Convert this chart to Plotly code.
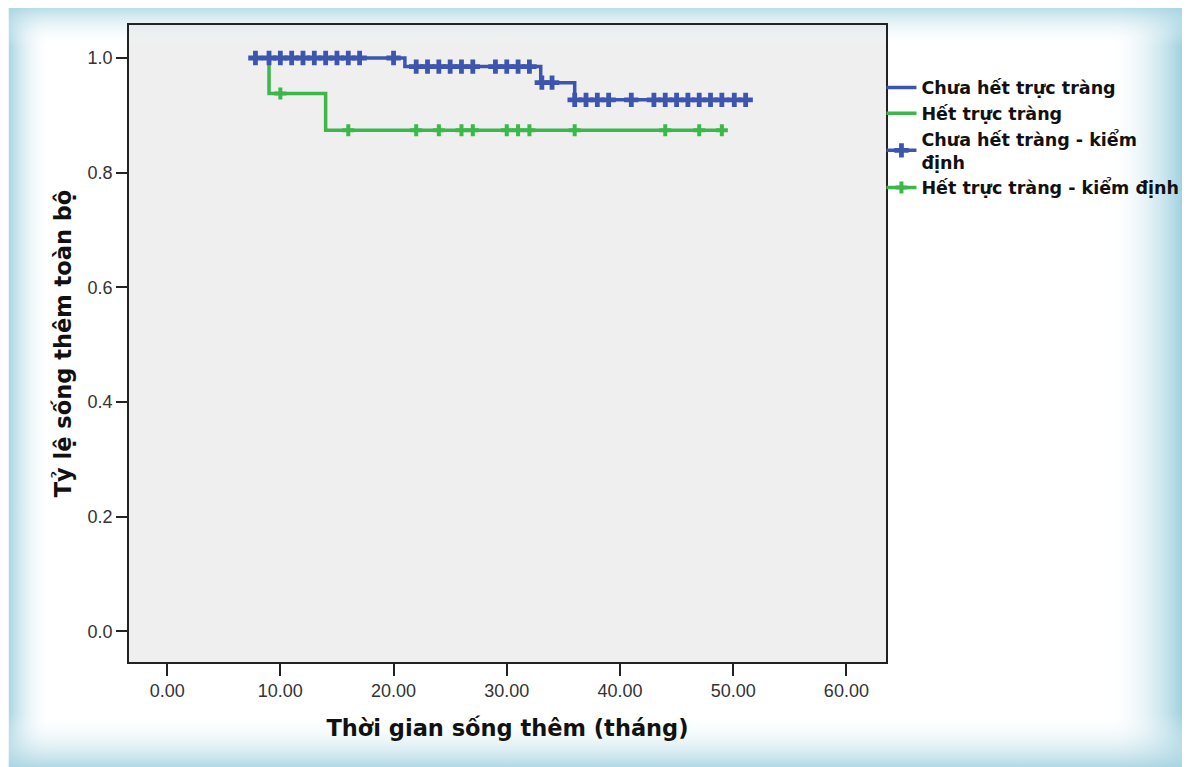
import plotly.graph_objects as go
import urllib.parse

# ---------------- data ----------------
# Kaplan-Meier step curves: event times and survival after each step
blue_name = "Chưa hết trực tràng"
blue_times = [7.6, 21.0, 33.0, 36.0, 51.2]
blue_surv = [1.0, 0.985, 0.957, 0.927, 0.927]
blue_censor = [7.8, 9, 10, 11, 12, 13, 14, 15, 16, 17, 20,
               22, 23, 24, 25, 26, 27, 29, 30, 31, 32,
               33.1, 34,
               36, 37, 38, 39, 41, 43, 44, 45, 46, 47, 48, 49, 50.1, 51.1]

green_name = "Hết trực tràng"
green_times = [7.6, 9.0, 14.0, 49.0]
green_surv = [1.0, 0.938, 0.874, 0.874]
green_censor = [10, 16, 22, 24, 26, 27, 30, 31, 32, 36, 44, 47, 49]

blue_censor_name = "Chưa hết tràng - kiểm<br>định"
green_censor_name = "Hết trực tràng - kiểm định"

x_ticks = [0, 10, 20, 30, 40, 50, 60]
y_ticks = [0.0, 0.2, 0.4, 0.6, 0.8, 1.0]

x_title = "Thời gian sống thêm (tháng)"
y_title = "Tỷ lệ sống thêm toàn bộ"

# ---------------- style ----------------
BLUE = "#3d55ae"
GREEN = "#3cb84a"
TXT = "#222222"


def surv_at(t, times, surv):
    s = surv[0]
    for ti, si in zip(times, surv):
        if t >= ti:
            s = si
    return s


def isolated(xs, times, surv):
    xx, yy = [], []
    for t in xs:
        xx += [t, None]
        yy += [surv_at(t, times, surv), None]
    return xx, yy


fig = go.Figure()

fig.add_trace(go.Scatter(x=green_times, y=green_surv, mode="lines", line_shape="hv",
                         line=dict(color=GREEN, width=3.5), name=green_name, legendrank=2,
                         hoverinfo="skip"))
fig.add_trace(go.Scatter(x=blue_times, y=blue_surv, mode="lines", line_shape="hv",
                         line=dict(color=BLUE, width=3.5), name=blue_name, legendrank=1,
                         hoverinfo="skip"))

gx, gy = isolated(green_censor, green_times, green_surv)
fig.add_trace(go.Scatter(x=gx, y=gy, mode="lines+markers", connectgaps=False,
                         line=dict(color=GREEN, width=3.5),
                         marker=dict(symbol="cross", size=10, color=GREEN, line=dict(width=0)),
                         name=green_censor_name, legendrank=4, hoverinfo="skip"))
bx, by = isolated(blue_censor, blue_times, blue_surv)
fig.add_trace(go.Scatter(x=bx, y=by, mode="lines+markers", connectgaps=False,
                         line=dict(color=BLUE, width=3.5),
                         marker=dict(symbol="cross", size=12, color=BLUE, line=dict(width=0)),
                         name=blue_censor_name, legendrank=3, hoverinfo="skip"))

# page body has an 8px margin: the figure starts at screen (8, 8)
OFF = 8
W, H = 1190 - OFF, 767 - OFF
L, R, T, B = 128.5 - OFF, 886 - OFF, 25 - OFF, 662 - OFF
pw, ph = R - L, B - T

# decorative frame (gradient border) as an SVG image
svg = f"""<svg xmlns='http://www.w3.org/2000/svg' width='{W}' height='{H}' viewBox='0 0 {W} {H}' preserveAspectRatio='none'>
<defs>
<linearGradient id='h' x1='0' x2='1' y1='0' y2='0'>
<stop offset='0' stop-color='#a9d5e2' stop-opacity='1'/>
<stop offset='0.035' stop-color='#ffffff' stop-opacity='0'/>
<stop offset='0.93' stop-color='#ffffff' stop-opacity='0'/>
<stop offset='0.995' stop-color='#9ccfde' stop-opacity='1'/>
<stop offset='1' stop-color='#ffffff' stop-opacity='1'/>
</linearGradient>
<linearGradient id='v' x1='0' x2='0' y1='0' y2='1'>
<stop offset='0' stop-color='#a9d5e2' stop-opacity='0.8'/>
<stop offset='0.05' stop-color='#ffffff' stop-opacity='0'/>
<stop offset='0.93' stop-color='#ffffff' stop-opacity='0'/>
<stop offset='1' stop-color='#a9d5e2' stop-opacity='0.9'/>
</linearGradient>
</defs>
<rect x='0' y='0' width='{W}' height='{H}' fill='url(#h)'/>
<rect x='0' y='0' width='{W}' height='{H}' fill='url(#v)'/>
</svg>"""
src = "data:image/svg+xml;charset=utf-8," + urllib.parse.quote(svg)

fig.add_layout_image(dict(source=src, xref="paper", yref="paper",
                          x=-L / pw, y=1 + T / ph, sizex=W / pw, sizey=H / ph,
                          xanchor="left", yanchor="top", sizing="stretch", layer="below"))

fig.update_layout(
    width=W, height=H,
    margin=dict(l=L, r=W - R, t=T, b=H - B, pad=0, autoexpand=False),
    paper_bgcolor="white",
    plot_bgcolor="#efefef",
    font=dict(family="Liberation Sans, Arial, sans-serif", color=TXT),
    showlegend=True,
    legend=dict(x=0.994, y=0.93, xanchor="left", yanchor="top",
                font=dict(family="DejaVu Sans", size=17.5,
                          color="#111111", weight="bold"),
                bgcolor="rgba(0,0,0,0)", tracegroupgap=0, itemwidth=30,
                traceorder="normal"),
    xaxis=dict(range=[-3.37, 63.5], tickvals=x_ticks, tickformat=".2f",
               showgrid=False, zeroline=False, showline=True, mirror=True,
               linecolor="#222222", linewidth=1.5, ticks="outside", ticklen=12,
               tickwidth=1.5, tickcolor="#222222",
               tickfont=dict(size=18, color="#333333"),
               title=dict(text=x_title, standoff=20,
                          font=dict(family="DejaVu Sans", size=22.5, weight="bold", color="#111111"))),
    yaxis=dict(range=[-0.0536, 1.0576], tickvals=y_ticks, tickformat=".1f",
               showgrid=False, zeroline=False, showline=True, mirror=True,
               linecolor="#222222", linewidth=1.5, ticks="outside", ticklen=11,
               tickwidth=1.5, tickcolor="#222222",
               tickfont=dict(size=18, color="#333333"),
               title=dict(text=y_title, standoff=10,
                          font=dict(family="DejaVu Sans", size=22.5, weight="bold", color="#111111"))),
)

fig.write_html("out.html")
